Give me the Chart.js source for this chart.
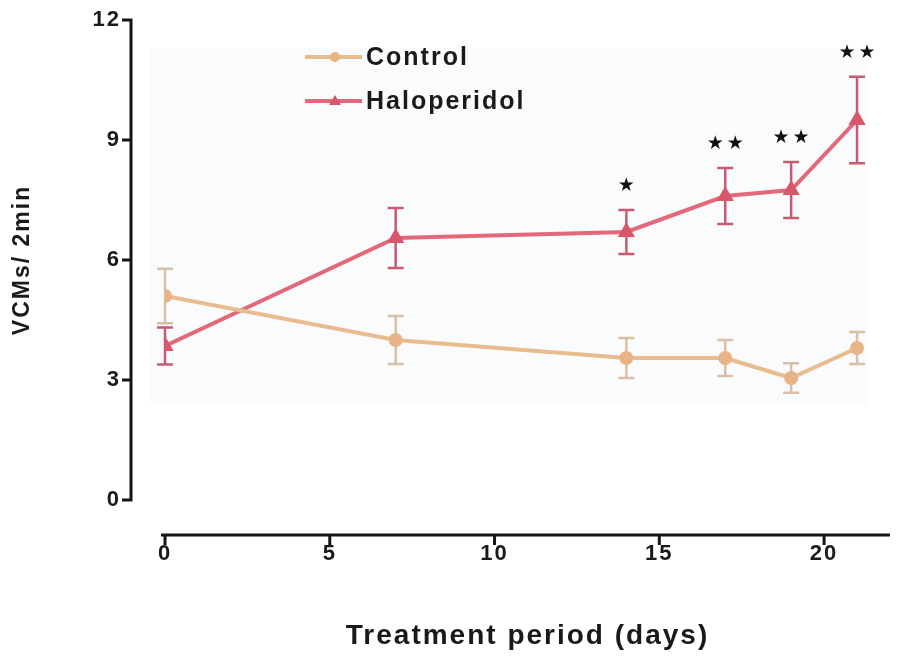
<!DOCTYPE html>
<html>

<head>
  <title>VCMs / 2min</title>
  <script src="https://cdn.jsdelivr.net/npm/chart.js@4.4.0/dist/chart.umd.min.js"></script>

  <style>
    body {
      margin: 0;
      background-color: white
    }

    .chart-container {
      width: 900px;
      height: 665px;
    }
  </style>
</head>

<body>
  <div class="chart-container">
    <canvas id="vcmChart"></canvas>
  </div>

  <script>
    // data
    const days = [0, 7, 14, 17, 19, 21];
    const control = [5.1, 4.0, 3.55, 3.55, 3.05, 3.8];
    const controlErr = [0.68, 0.6, 0.5, 0.45, 0.37, 0.4];
    const halo = [3.85, 6.55, 6.7, 7.6, 7.75, 9.5];
    const haloErr = [0.46, 0.75, 0.55, 0.7, 0.7, 1.08];
    const signif = ['', '', '*', '**', '**', '**'];
    const xTicks = [0, 5, 10, 15, 20];
    const yTicks = [0, 3, 6, 9, 12];

    const spacing = '2px';
    Chart.defaults.font.family = "'Liberation Sans', Arial, sans-serif";
    Chart.defaults.color = '#1a1a1a';

    function toPoints(vals) {
      return days.map((d, i) => ({ x: d, y: vals[i] }));
    }

    // faint scan background + letter spacing
    const paperPlugin = {
      id: 'paper',
      beforeUpdate(chart) { chart.ctx.letterSpacing = spacing; },
      beforeDraw(chart) {
        const ctx = chart.ctx;
        ctx.letterSpacing = spacing;
        const x = chart.scales.x, y = chart.scales.y;
        const l = x.getPixelForValue(-0.45), r = x.getPixelForValue(21.3);
        const t = y.getPixelForValue(11.3), b = y.getPixelForValue(2.4);
        ctx.save();
        ctx.fillStyle = '#fafbfc';
        ctx.fillRect(l, t, r - l, b - t);
        ctx.restore();
      }
    };

    // error bars under the lines
    const errorPlugin = {
      id: 'errorBars',
      beforeDatasetsDraw(chart) {
        const ctx = chart.ctx, x = chart.scales.x, y = chart.scales.y;
        ctx.save();
        chart.data.datasets.forEach(ds => {
          ctx.strokeStyle = ds.errColor;
          ctx.lineWidth = 2.5;
          ds.data.forEach((p, i) => {
            const px = x.getPixelForValue(p.x);
            const top = y.getPixelForValue(p.y + ds.err[i]);
            const bot = y.getPixelForValue(p.y - ds.err[i]);
            ctx.beginPath();
            ctx.moveTo(px, top); ctx.lineTo(px, bot);
            ctx.moveTo(px - 8, top); ctx.lineTo(px + 8, top);
            ctx.moveTo(px - 8, bot); ctx.lineTo(px + 8, bot);
            ctx.stroke();
          });
        });
        ctx.restore();
      }
    };

    // detached axes, stars and legend
    const decoPlugin = {
      id: 'deco',
      afterDraw(chart) {
        const ctx = chart.ctx, x = chart.scales.x, y = chart.scales.y;
        const area = chart.chartArea;
        const ax = area.left - 34, ay = area.bottom + 35;
        ctx.save();
        ctx.strokeStyle = '#151515';
        ctx.lineWidth = 3;
        ctx.beginPath();
        ctx.moveTo(ax, y.getPixelForValue(12) - 1.5);
        ctx.lineTo(ax, y.getPixelForValue(0) + 1.5);
        yTicks.forEach(v => {
          const p = y.getPixelForValue(v);
          ctx.moveTo(ax - 9, p); ctx.lineTo(ax, p);
        });
        ctx.moveTo(x.getPixelForValue(0) - 4, ay);
        ctx.lineTo(x.getPixelForValue(22), ay);
        xTicks.forEach(v => {
          const p = x.getPixelForValue(v);
          ctx.moveTo(p, ay); ctx.lineTo(p, ay + 10);
        });
        ctx.stroke();

        // significance stars
        ctx.letterSpacing = '0px';
        ctx.fillStyle = '#111';
        ctx.font = "19px 'DejaVu Sans'";
        ctx.textAlign = 'center';
        ctx.textBaseline = 'middle';
        signif.forEach((s, i) => {
          if (!s) return;
          const px = x.getPixelForValue(days[i]);
          const py = y.getPixelForValue(halo[i] + haloErr[i]) - 24;
          for (let k = 0; k < s.length; k++) {
            ctx.fillText('\u2605', px + (k - (s.length - 1) / 2) * 20, py);
          }
        });

        // legend
        ctx.letterSpacing = spacing;
        ctx.font = "bold 25px 'Liberation Sans', Arial, sans-serif";
        ctx.textAlign = 'left';
        const lx = area.left + 140;
        chart.data.datasets.forEach((ds, i) => {
          const ly = area.top + 37 + i * 44;
          ctx.strokeStyle = ds.borderColor;
          ctx.lineWidth = 4;
          ctx.beginPath();
          ctx.moveTo(lx, ly); ctx.lineTo(lx + 57, ly);
          ctx.stroke();
          ctx.fillStyle = ds.pointBackgroundColor;
          ctx.beginPath();
          if (ds.pointStyle === 'triangle') {
            ctx.moveTo(lx + 30, ly - 6); ctx.lineTo(lx + 36, ly + 4); ctx.lineTo(lx + 24, ly + 4);
          } else {
            ctx.arc(lx + 30, ly, 5, 0, Math.PI * 2);
          }
          ctx.fill();
          ctx.fillStyle = '#1a1a1a';
          ctx.fillText(ds.label, lx + 61, ly + 1);
        });
        ctx.restore();
      }
    };

    const ctx = document.getElementById('vcmChart').getContext('2d');
    new Chart(ctx, {
      type: 'line',
      data: {
        datasets: [
          {
            label: 'Control',
            data: toPoints(control),
            err: controlErr,
            errColor: '#d9bfa6',
            borderColor: '#e9bc90',
            pointBackgroundColor: '#e8b386',
            pointBorderColor: '#e8b386',
            pointStyle: 'circle',
            pointRadius: 5,
            borderWidth: 4,
            fill: false,
            tension: 0
          },
          {
            label: 'Haloperidol',
            data: toPoints(halo),
            err: haloErr,
            errColor: '#c85a72',
            borderColor: '#e3687a',
            pointBackgroundColor: '#d9566c',
            pointBorderColor: '#d9566c',
            pointStyle: 'triangle',
            pointRadius: 6,
            borderWidth: 4,
            fill: false,
            tension: 0
          }
        ]
      },
      options: {
        responsive: true,
        maintainAspectRatio: false,
        animation: false,
        layout: {
          padding: { top: 20, right: 10, left: 0, bottom: 0 }
        },
        plugins: {
          legend: { display: false },
          tooltip: { enabled: false }
        },
        scales: {
          x: {
            type: 'linear',
            min: 0,
            max: 22,
            grid: { display: false, drawTicks: false },
            border: { display: false },
            ticks: {
              stepSize: 5,
              includeBounds: false,
              padding: 41,
              font: { size: 22, weight: 'bold' }
            },
            title: {
              display: true,
              text: 'Treatment period (days)',
              font: { size: 28, weight: 'bold' },
              padding: { top: 0, bottom: 12 }
            },
            afterFit: s => { s.height = 165; s.paddingTop = 0; s.paddingBottom = 0; }
          },
          y: {
            min: 0,
            max: 12,
            grid: { display: false, drawTicks: false },
            border: { display: false },
            ticks: {
              stepSize: 3,
              padding: 44,
              font: { size: 22, weight: 'bold' }
            },
            title: {
              display: true,
              text: 'VCMs/ 2min',
              font: { size: 23, weight: 'bold' },
              padding: { top: 9, bottom: 0 }
            },
            afterFit: s => { s.width = 165; s.paddingTop = 0; s.paddingBottom = 0; }
          }
        }
      },
      plugins: [paperPlugin, errorPlugin, decoPlugin]
    });
  </script>
</body>

</html>
